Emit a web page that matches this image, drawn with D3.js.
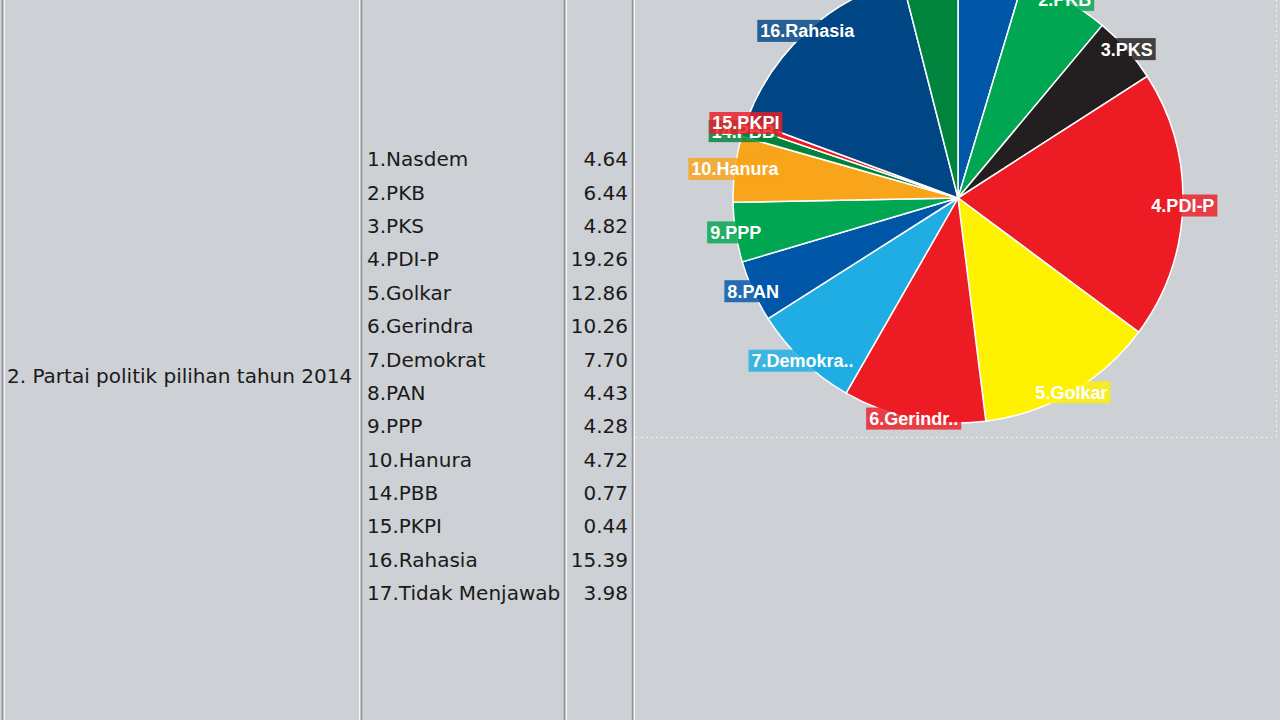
<!DOCTYPE html>
<html>
<head>
<meta charset="utf-8">
<script src="https://cdn.jsdelivr.net/npm/d3@7"></script>
<style>
  html, body { margin: 0; padding: 0; background: #cdd0d4; overflow: hidden; }
  svg { display: block; }
</style>
</head>
<body>
<div id="chart"></div>
<script>
var question = "2. Partai politik pilihan tahun 2014";
var parties = ["1.Nasdem", "2.PKB", "3.PKS", "4.PDI-P", "5.Golkar", "6.Gerindra", "7.Demokrat",
  "8.PAN", "9.PPP", "10.Hanura", "14.PBB", "15.PKPI", "16.Rahasia", "17.Tidak Menjawab"];
var values = [4.64, 6.44, 4.82, 19.26, 12.86, 10.26, 7.70, 4.43, 4.28, 4.72, 0.77, 0.44, 15.39, 3.98];
// pie labels as they appear (long names cut off)
var pieLabels = ["1.Nasdem", "2.PKB", "3.PKS", "4.PDI-P", "5.Golkar", "6.Gerindr..", "7.Demokra..",
  "8.PAN", "9.PPP", "10.Hanura", "14.PBB", "15.PKPI", "16.Rahasia", "17.Tidak Me.."];
var colors = ["#0057a8", "#00a651", "#231f20", "#ed1c24", "#fff200", "#ed1c24", "#1fade3",
  "#0057a8", "#00a651", "#f8a51b", "#00843d", "#ed1c24", "#004685", "#00843d"];

var width = 1280, height = 720;

var svg = d3.select("#chart")
  .append("svg")
    .attr("width", width)
    .attr("height", height);

//Table borders (inset look: dark line + light line)
var borders = [[2.5, 4.5], [361.5, 359.5], [564.5, 566.5], [632.5, 634.5]];
borders.forEach(function(b) {
  svg.append("line")
    .attr("x1", b[0]).attr("x2", b[0]).attr("y1", 0).attr("y2", height)
    .attr("stroke", "#8e9398").attr("stroke-width", 1.5);
  svg.append("line")
    .attr("x1", b[1]).attr("x2", b[1]).attr("y1", 0).attr("y2", height)
    .attr("stroke", "#f4f5f6").attr("stroke-width", 1.2);
});

//Rows
var y = d3.scalePoint()
  .domain(parties)
  .range([159, 593]);

var rows = svg.selectAll("g.row")
  .data(parties)
  .enter()
  .append("g")
    .attr("class", "row")
    .attr("transform", function(d) { return "translate(0," + y(d) + ")"; });

rows.append("text")
  .attr("x", 367)
  .attr("dy", "0.36em")
  .style("font-family", "DejaVu Sans")
  .style("font-size", "20px")
  .attr("fill", "#1a1a1a")
  .text(function(d) { return d; });

rows.append("text")
  .attr("x", 628)
  .attr("dy", "0.36em")
  .attr("text-anchor", "end")
  .style("font-family", "DejaVu Sans")
  .style("font-size", "20px")
  .attr("fill", "#1a1a1a")
  .text(function(d, i) { return values[i].toFixed(2); });

//Question cell
svg.append("text")
  .attr("x", 7)
  .attr("y", (y.range()[0] + y.range()[1]) / 2)
  .attr("dy", "0.36em")
  .style("font-family", "DejaVu Sans")
  .style("font-size", "20px")
  .attr("fill", "#1a1a1a")
  .text(question);

//Chart area dotted border
svg.append("line")
  .attr("x1", 636).attr("x2", 1276).attr("y1", 437.5).attr("y2", 437.5)
  .attr("stroke", "#eef0f2").attr("stroke-width", 1)
  .attr("stroke-dasharray", "2,3");
svg.append("line")
  .attr("x1", 1276.5).attr("x2", 1276.5).attr("y1", 0).attr("y2", 437)
  .attr("stroke", "#eef0f2").attr("stroke-width", 1)
  .attr("stroke-dasharray", "2,3");

//Pie
var radius = 225;
var pie = d3.pie().sort(null).value(function(d) { return d; });
var arcs = pie(values);
var arc = d3.arc().innerRadius(0).outerRadius(radius);
var labelArc = d3.arc().innerRadius(radius).outerRadius(radius);

var g = svg.append("g")
  .attr("transform", "translate(958,198)");

g.selectAll("path.slice")
  .data(arcs)
  .enter()
  .append("path")
    .attr("class", "slice")
    .attr("d", arc)
    .attr("fill", function(d, i) { return colors[i]; })
    .attr("stroke", "#ffffff")
    .attr("stroke-width", 1.5);

var labels = g.selectAll("g.label")
  .data(arcs)
  .enter()
  .append("g")
    .attr("class", "label")
    .attr("transform", function(d) { return "translate(" + labelArc.centroid(d) + ")"; });

labels.append("rect")
  .attr("fill", function(d, i) { return colors[i]; })
  .attr("fill-opacity", 0.82);

labels.append("text")
  .attr("text-anchor", "middle")
  .attr("dy", "0.36em")
  .style("font-family", "Liberation Sans Narrow, Liberation Sans, Arial")
  .style("font-weight", "bold")
  .style("font-size", "18px")
  .attr("fill", "#ffffff")
  .text(function(d, i) { return pieLabels[i]; });

labels.each(function() {
  var t = d3.select(this).select("text").node().getBBox();
  d3.select(this).select("rect")
    .attr("x", t.x - 3)
    .attr("y", -11)
    .attr("width", t.width + 6)
    .attr("height", 22);
});
</script>
</body>
</html>
